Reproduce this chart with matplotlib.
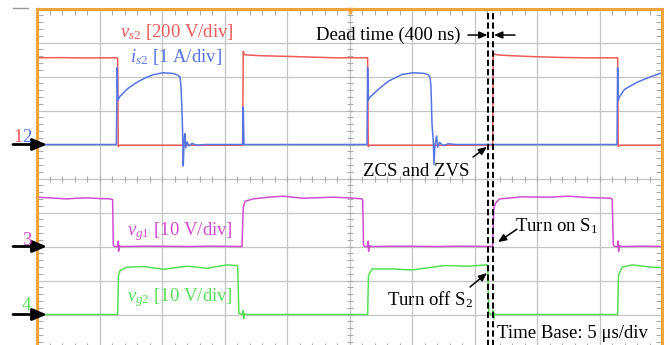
import numpy as np
import matplotlib
matplotlib.use("Agg")
import matplotlib.pyplot as plt
from matplotlib.lines import Line2D

plt.rcParams["font.family"] = ["Liberation Serif", "DejaVu Serif"]
plt.rcParams["mathtext.fontset"] = "custom"
plt.rcParams["mathtext.rm"] = "Liberation Serif"
plt.rcParams["mathtext.it"] = "Liberation Serif:italic"

# --- scope traces (time in us) ---
# vs2 [V], 200 V/div, ch1
vs2_t = [0, 2.0, 4.0, 6.0, 6.45, 6.5, 6.6, 8.0, 12.0, 16.45,
         16.5, 16.6, 17.0, 18.0, 20.2, 22.0, 23.8, 26.45,
         26.5, 26.6, 28.0, 32.0, 36.45,
         36.5, 36.6, 37.0, 38.0, 40.0, 42.0, 43.8, 46.45,
         46.5, 46.6, 48.0, 50.0]
vs2_v = [510, 511, 509, 510, 510, -12, -4, -4, -4, -4,
         548, 528, 526, 522, 518, 514, 510, 510,
         -12, -4, -4, -4, -4,
         545, 530, 526, 522, 516, 512, 510, 510,
         -12, -4, -4, -4]

# is2 [A], 1 A/div, ch2
is2_t = [0, 6.35, 6.42, 6.47, 6.6, 7.18, 7.7, 8.24, 8.8, 9.28, 10.08, 10.88, 11.2,
         11.44, 11.52, 11.6, 11.66, 11.7, 11.76, 11.82, 11.9, 12.0, 12.15, 12.4,
         12.8, 13.5, 16.45, 16.5, 16.56,
         26.4, 26.45, 26.5, 26.6, 27.3, 28.1, 29.2, 30.1, 31.0, 31.3, 31.44, 31.52,
         31.6, 31.7, 31.76, 31.84, 31.97, 32.05, 32.2, 32.5, 32.9, 33.5, 36.45,
         46.4, 46.45, 46.5, 46.56, 47.0, 48.0, 49.0, 49.84, 50.0]
is2_a = [0, 0, 2.26, 1.30, 1.40, 1.62, 1.76, 1.88, 1.98, 2.05, 2.11, 2.09, 2.05,
         1.99, 1.70, 1.00, 0.20, -0.63, 0.00, 0.32, -0.10, 0.08, -0.04, 0.03,
         -0.02, 0, 0, 1.10, 0,
         0, 2.26, 1.30, 1.38, 1.62, 1.86, 2.06, 2.11, 2.09, 2.05, 1.99, 1.70,
         0.60, 0.10, -0.59, 0.00, 0.25, -0.08, 0.06, -0.03, 0.02, 0, 0,
         0, 2.26, 1.30, 1.38, 1.62, 1.83, 1.98, 2.09, 2.10]

# vg1 [V], 10 V/div, ch3
vg1_t = [0, 1.0, 2.4, 3.2, 4.0, 5.0, 5.84, 6.05, 6.1, 6.2, 6.45, 6.5, 6.53, 6.58,
         6.7, 9.0, 12.0, 14.0, 16.4, 16.5, 16.64, 17.3, 18.5, 19.7, 21.3, 23.7,
         25.0, 26.0, 26.06, 26.12, 26.2, 26.45, 26.5, 26.53, 26.58, 26.7, 29.0,
         32.0, 34.0, 36.45, 36.55, 36.7, 37.0, 38.8, 40.9, 42.5, 44.1, 45.9,
         46.02, 46.1, 46.2, 46.45, 46.5, 46.53, 46.58, 46.7, 48.5, 50.0]
vg1_v = [14.5, 14.3, 14.0, 14.2, 14.3, 14.1, 14.0, 13.8, 0.4, 0.0, 0.0, 1.6, -1.4, 0.3,
         0.0, 0.1, 0.0, 0.1, 0.0, 11.5, 13.3, 14.0, 14.5, 14.8, 14.2, 14.5,
         14.3, 14.0, 13.6, 0.4, 0.0, 0.0, 1.6, -1.4, 0.3, 0.0, 0.1,
         0.0, 0.1, 0.0, 11.5, 12.8, 14.0, 14.6, 14.5, 14.8, 14.4, 14.2,
         13.8, 0.4, 0.0, 0.0, 1.6, -1.4, 0.3, 0.0, 0.1, 0.0]

# vg2 [V], 10 V/div, ch4
vg2_t = [0, 3.0, 6.45, 6.52, 6.64, 7.18, 8.5, 10.1, 12.0, 13.6, 15.2, 16.0, 16.06,
         16.15, 16.45, 16.5, 16.53, 16.58, 16.7, 20.0, 24.0, 26.45, 26.52, 26.8,
         28.4, 30.0, 31.6, 32.6, 34.5, 36.0, 36.06, 36.15, 36.45, 36.5, 36.53,
         36.58, 36.7, 40.0, 44.0, 46.45, 46.52, 46.8, 47.6, 49.2, 50.0]
vg2_v = [0, 0, 0, 11.5, 12.9, 13.9, 14.1, 13.3, 14.2, 13.6, 14.6, 14.4, 13.8,
         0.3, 0.0, 1.2, -1.2, 0.2, 0.0, 0.0, 0.0, 0.0, 11.5, 13.4,
         13.4, 13.1, 13.9, 14.4, 14.2, 14.6, 13.8, 0.3, 0.0, 1.2, -1.2,
         0.2, 0.0, 0.0, 0.0, 0.0, 11.5, 13.9, 14.6, 13.9, 13.8]

# reference level (div) and volts-or-amps per div for each channel
ch_ref = {"vs2": 6, "is2": 6, "vg1": 3, "vg2": 1}
ch_scale = {"vs2": 200.0, "is2": 1.0, "vg1": 10.0, "vg2": 10.0}
ch_color = {"vs2": "#f05a5a", "is2": "#5674e4", "vg1": "#d24cd2", "vg2": "#55e055"}

dead_start = 36.1     # us, gate of S2 released
dead_ns = 400         # dead time

ORANGE = "#f2a33a"
GRID = "#c4c4c4"

fig = plt.figure(figsize=(6.7, 3.45), dpi=100)
ax = fig.add_axes([37 / 670, (345 - 348.5) / 345, 625 / 670, 340 / 345])
ax.set_xlim(0, 50)
ax.set_ylim(0, 10)

# graticule
ax.set_xticks(np.arange(0, 51, 5))
ax.set_yticks(np.arange(0, 11, 1))
ax.set_xticks(np.arange(0, 50, 1), minor=True)
ax.set_yticks(np.arange(0, 10, 0.2), minor=True)
ax.grid(True, which="major", color=GRID, lw=0.9)
ax.tick_params(which="major", length=0, labelbottom=False, labelleft=False)
ax.tick_params(which="minor", direction="in", length=4, width=0.8, color="#aaaaaa",
               top=True, right=True)
mx = np.arange(0, 50, 1)
my = np.arange(0, 10, 0.2)
ax.plot(mx, np.full(mx.size, 5.0), ls="none", marker="|", ms=5, mew=0.8, color="#aaaaaa")
ax.plot(np.full(my.size, 25.0), my, ls="none", marker="_", ms=5, mew=0.8, color="#aaaaaa")

for s in ("top", "left", "right"):
    ax.spines[s].set_color(ORANGE)
    ax.spines[s].set_linewidth(2.2)
ax.spines["bottom"].set_visible(False)

# trigger position marker
ax.plot(25, 9.92, marker="v", ms=5, color=ORANGE, clip_on=False)
fig.add_artist(Line2D([13 / 670, 28 / 670], [1 - 8 / 345] * 2, color="#999999", lw=1))

traces = [("vs2", vs2_t, vs2_v), ("is2", is2_t, is2_a),
          ("vg1", vg1_t, vg1_v), ("vg2", vg2_t, vg2_v)]
for name, t, v in traces:
    y = ch_ref[name] + np.asarray(v) / ch_scale[name]
    ax.plot(t, y, color=ch_color[name], lw=1.1, solid_joinstyle="round")

# dead-time markers
for xd in (dead_start, dead_start + dead_ns / 1000):
    ax.axvline(xd, color="black", lw=1.4, ls=(0, (3.2, 1.6)))

# channel ground arrows and numbers
for name in ("vs2", "vg1", "vg2"):
    r = ch_ref[name]
    ax.annotate("", xy=(0.8, r), xytext=(-1.92, r), annotation_clip=False,
                arrowprops=dict(arrowstyle="-|>,head_length=0.86,head_width=0.36",
                                mutation_scale=10, lw=2, color="black",
                                shrinkA=0, shrinkB=0))
fs = 13.5
ax.text(-1.92, 6.07, "1", color=ch_color["vs2"], fontsize=fs, clip_on=False)
ax.text(-1.16, 6.07, "2", color=ch_color["is2"], fontsize=fs, clip_on=False)
ax.text(-1.2, 3.04, "3", color=ch_color["vg1"], fontsize=fs, clip_on=False)
ax.text(-1.2, 1.13, "4", color=ch_color["vg2"], fontsize=fs, clip_on=False)

# trace labels
ax.text(6.64, 9.15, r"$v_{\mathit{s2}}$ [200 V/div]", color=ch_color["vs2"], fontsize=fs)
ax.text(7.44, 8.44, r"$i_{\mathit{s2}}$ [1 A/div]", color=ch_color["is2"], fontsize=fs)
ax.text(7.2, 3.34, r"$v_{\mathit{g1}}$ [10 V/div]", color=ch_color["vg1"], fontsize=fs)
ax.text(7.2, 1.40, r"$v_{\mathit{g2}}$ [10 V/div]", color=ch_color["vg2"], fontsize=fs)

# annotations
ax.text(22.32, 9.07, "Dead time (400 ns)", fontsize=fs)
ax.text(26.08, 5.07, "ZCS and ZVS", fontsize=fs)
ax.text(38.24, 3.44, r"Turn on S$_1$", fontsize=fs)
ax.text(28.0, 1.28, r"Turn off S$_2$", fontsize=fs)
ax.text(36.8, 0.32, "Time Base: 5 μs/div", fontsize=fs)

small = dict(arrowstyle="-|>,head_length=0.7,head_width=0.3", mutation_scale=7,
             lw=1.1, color="black", shrinkA=0, shrinkB=0)
ax.annotate("", xy=(dead_start - 0.06, 9.22), xytext=(34.48, 9.22), arrowprops=small)
ax.annotate("", xy=(dead_start + dead_ns / 1000 + 0.06, 9.22), xytext=(38.24, 9.22),
            arrowprops=small)
ax.annotate("", xy=(36.0, 5.93), xytext=(34.88, 5.63), arrowprops=small)
ax.annotate("", xy=(36.88, 3.13), xytext=(38.4, 3.51), arrowprops=small)
ax.annotate("", xy=(36.0, 2.22), xytext=(34.64, 1.81), arrowprops=small)

fig.savefig("out.png", dpi=100)
